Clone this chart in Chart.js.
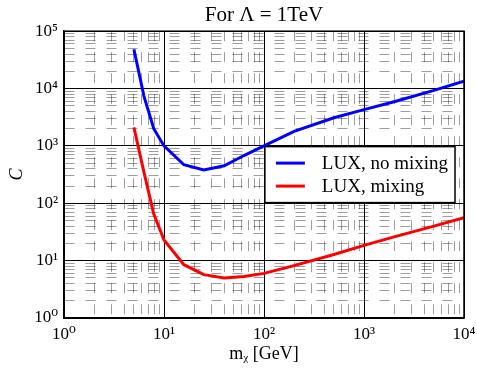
<!DOCTYPE html>
<html>
<head>
<meta charset="utf-8">
<script src="https://cdn.jsdelivr.net/npm/chart.js@4.4.1/dist/chart.umd.min.js"></script>
<style>
  html, body { margin: 0; padding: 0; background: #fff; }
  canvas { display: block; }
</style>
</head>
<body>
<canvas id="luxChart" width="477" height="368"></canvas>
<script>
// dark matter mass m_chi [GeV]
const masses = [5, 6.3, 7.9, 10, 15.8, 25, 40, 63, 100, 200, 500, 1000, 2000, 5000, 10000];
// C, LUX without mixing
const cNoMixing = [48500, 7400, 2000, 1000, 470, 380, 450, 680, 1000, 1800, 3100, 4300, 5900, 9300, 13500];
// C, LUX with mixing
const cMixing = [2100, 350, 65, 23, 8.5, 5.7, 5.0, 5.3, 6.0, 8.2, 12.8, 18.5, 26, 40, 56];

const xDecades = [1, 10, 100, 1000, 10000];
const xTickLabels = ['10\u2070', '10\u00b9', '10\u00b2', '10\u00b3', '10\u2074'];
const yDecades = [1, 10, 100, 1000, 10000, 100000];
const yTickLabels = ['10\u2070', '10\u00b9', '10\u00b2', '10\u00b3', '10\u2074', '10\u2075'];

const serif = "'Liberation Serif', 'DejaVu Serif', serif";

// major ticks at each decade, minor ones at 2..9 times the decade
function logTicks(decades) {
    const ticks = [];
    decades.forEach((d, i) => {
        ticks.push({ value: d, major: true });
        if (i < decades.length - 1) {
            for (let m = 2; m <= 9; m++) ticks.push({ value: m * d, major: false });
        }
    });
    return ticks;
}

function logAxis(decades, labels, title) {
    return {
        type: 'logarithmic',
        min: decades[0],
        max: decades[decades.length - 1],
        afterBuildTicks: scale => { scale.ticks = logTicks(decades); },
        ticks: {
            autoSkip: false,
            maxRotation: 0,
            padding: 6,
            color: '#000',
            font: { family: serif, size: 17 },
            callback: (value, index, ticks) => {
                const i = decades.indexOf(value);
                return i >= 0 ? labels[i] : '';
            }
        },
        grid: {
            drawTicks: false,
            color: ctx => (ctx.tick && ctx.tick.major) ? '#000' : 'rgba(0,0,0,0.38)',
            lineWidth: 1
        },
        border: {
            display: true,
            color: '#000',
            width: 1.5,
            dash: ctx => (ctx.tick && !ctx.tick.major) ? [10, 11] : []
        },
        title: title
    };
}

// frame on all four sides of the plot
const framePlugin = {
    id: 'frame',
    afterDatasetsDraw(chart) {
        const a = chart.chartArea;
        const ctx = chart.ctx;
        ctx.save();
        ctx.strokeStyle = '#000';
        ctx.lineWidth = 1.5;
        ctx.strokeRect(a.left, a.top, a.right - a.left, a.bottom - a.top);
        ctx.restore();
    }
};

// legend box placed inside the plot, centre right
const boxLegendPlugin = {
    id: 'boxLegend',
    afterDraw(chart) {
        const a = chart.chartArea;
        const ctx = chart.ctx;
        const sets = chart.data.datasets;
        ctx.save();
        ctx.font = '19px ' + serif;
        const textW = Math.max(...sets.map(s => ctx.measureText(s.label).width));
        const lineLen = 29, rowH = 23, padX = 11, gap = 17;
        const w = padX + lineLen + gap + textW + 7;
        const h = rowH * sets.length + 10;
        const x = a.right - 9 - w;
        const y = (a.top + a.bottom) / 2 - h / 2;
        ctx.fillStyle = '#fff';
        ctx.fillRect(x, y, w, h);
        ctx.strokeStyle = '#000';
        ctx.lineWidth = 1.5;
        ctx.strokeRect(x, y, w, h);
        sets.forEach((s, i) => {
            const cy = y + 5 + rowH * i + rowH / 2;
            ctx.strokeStyle = s.borderColor;
            ctx.lineWidth = 3;
            ctx.beginPath();
            ctx.moveTo(x + padX, cy);
            ctx.lineTo(x + padX + lineLen, cy);
            ctx.stroke();
            ctx.fillStyle = '#000';
            ctx.textBaseline = 'middle';
            ctx.fillText(s.label, x + padX + lineLen + gap, cy + 1);
        });
        ctx.restore();
    }
};

const xAxis = logAxis(xDecades, xTickLabels, {
    display: true,
    text: 'm\u1d6a [GeV]',
    color: '#000',
    font: { family: serif, size: 18 },
    padding: { top: 0, bottom: 3 }
});
xAxis.afterFit = s => { s.height = 50; s.paddingLeft = 0; s.paddingRight = 0; };

const yAxis = logAxis(yDecades, yTickLabels, {
    display: true,
    text: 'C',
    color: '#000',
    font: { family: serif, size: 18, style: 'italic' },
    padding: { top: 6, bottom: 0 }
});
yAxis.afterFit = s => { s.width = 64; s.paddingTop = 0; s.paddingBottom = 0; };

new Chart(document.getElementById('luxChart'), {
    type: 'line',
    data: {
        datasets: [{
            label: 'LUX, no mixing',
            data: masses.map((m, i) => ({ x: m, y: cNoMixing[i] })),
            borderColor: '#0000ff',
            borderWidth: 3,
            pointRadius: 0,
            tension: 0,
            fill: false
        }, {
            label: 'LUX, mixing',
            data: masses.map((m, i) => ({ x: m, y: cMixing[i] })),
            borderColor: '#ff0000',
            borderWidth: 3,
            pointRadius: 0,
            tension: 0,
            fill: false
        }]
    },
    options: {
        responsive: false,
        animation: false,
        layout: { padding: { left: 0, right: 13, top: 0, bottom: 0 } },
        scales: { x: xAxis, y: yAxis },
        plugins: {
            legend: { display: false },
            tooltip: { enabled: false },
            title: {
                display: true,
                fullSize: false,
                text: 'For \u039b = 1TeV',
                color: '#000',
                font: { family: serif, size: 21, weight: 'normal' },
                padding: { top: 3, bottom: 3 }
            }
        }
    },
    plugins: [framePlugin, boxLegendPlugin]
});
</script>
</body>
</html>
